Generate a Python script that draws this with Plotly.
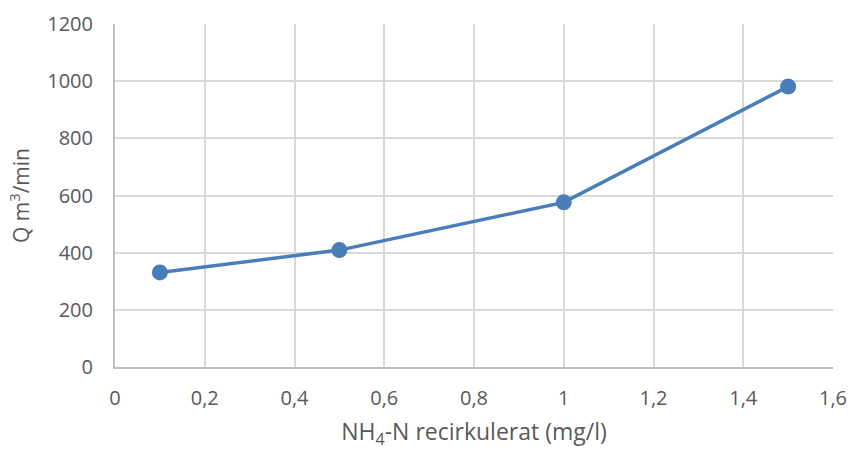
import plotly.graph_objects as go

x_vals = [0.1, 0.5, 1.0, 1.5]
q_vals = [331, 409, 576, 981]
x_ticks = [0, 0.2, 0.4, 0.6, 0.8, 1.0, 1.2, 1.4, 1.6]
y_ticks = [0, 200, 400, 600, 800, 1000, 1200]

BLUE = "#4a7ebb"
TXT = "#595959"
FONT = "Open Sans"

fig = go.Figure()
fig.add_trace(go.Scatter(
    x=x_vals, y=q_vals, mode="lines+markers",
    line=dict(color=BLUE, width=3.5),
    marker=dict(color=BLUE, size=16),
    showlegend=False,
))

fig.update_layout(
    width=851, height=450,
    margin=dict(l=115, r=18, t=24, b=83),
    paper_bgcolor="white", plot_bgcolor="white",
    separators=", ",
    font=dict(family=FONT, size=21, color=TXT),
    xaxis=dict(
        range=[0, 1.6], tickvals=x_ticks, showgrid=True, gridcolor="#d9d9d9", gridwidth=1.5,
        showline=True, linecolor="#bfbfbf", linewidth=2, zeroline=False,
        ticks="", ticklabelstandoff=12, automargin=False,
        tickfont=dict(size=20),
        title=dict(text="NH<sub>4</sub>-N recirkulerat (mg/l)", font=dict(size=23, color=TXT), standoff=16),
    ),
    yaxis=dict(
        range=[0, 1200], tickvals=y_ticks, showgrid=True, gridcolor="#d9d9d9", gridwidth=1.5,
        showline=True, linecolor="#bfbfbf", linewidth=2, zeroline=False,
        ticks="", ticklabelstandoff=16, automargin=False,
        tickfont=dict(size=20),
        title=dict(text="Q m<sup>3</sup>/min", font=dict(size=21, color=TXT), standoff=12),
    ),
)

fig.write_html("out.html")
